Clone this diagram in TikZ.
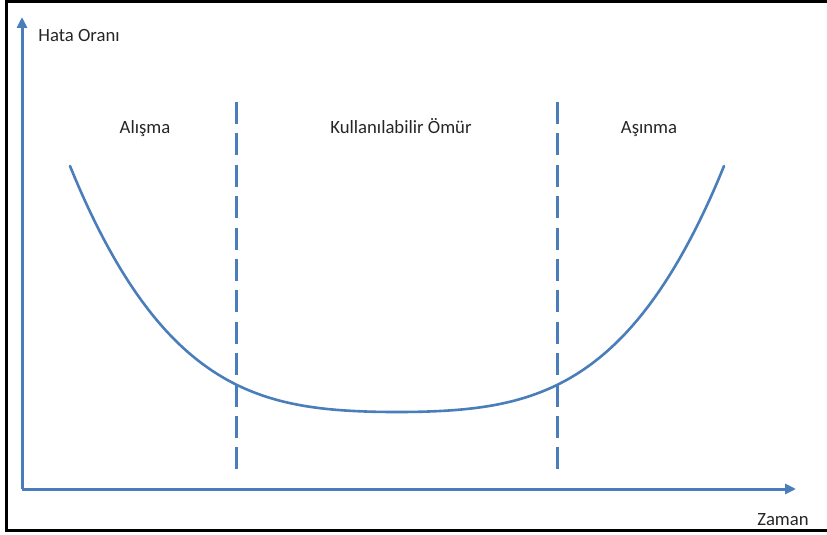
\documentclass[tikz,border=0pt]{standalone}
\usepackage{fontspec}
\setmainfont{Carlito}
\usetikzlibrary{arrows.meta}
\definecolor{lineblue}{RGB}{74,126,187}
\definecolor{txt}{RGB}{38,38,38}
\tikzset{
  axisline/.style={draw=lineblue, line width=3pt, line join=miter, -{Triangle[length=11pt,width=10pt]}},
  phase/.style={draw=lineblue, line width=3pt, dash pattern=on 22pt off 9.4pt},
  curveline/.style={draw=lineblue, line width=2.6pt, line cap=round},
  lbl/.style={text=txt, font=\fontsize{18.7}{22}\selectfont, inner sep=0pt, anchor=base},
  frameline/.style={draw=black, line width=3pt}
}
\begin{document}
\begin{tikzpicture}[x=1pt, y=-1pt]
\useasboundingbox (0,0) rectangle (827,535);
\fill[white] (0,0) rectangle (827,535);
% frame
\draw[frameline] (827,1.3) -- (6,1.3) -- (6,530) -- (827,530);
% axes
\coordinate (O) at (22,489);
\coordinate (ytip) at (22,17);
\coordinate (xtip) at (796,489);
\draw[axisline] (O) -- (ytip);
\draw[axisline] (O) -- (xtip);
% phase boundaries
\coordinate (d1t) at (236.5,102);
\coordinate (d1b) at (236.5,469);
\coordinate (d2t) at (557.5,102);
\coordinate (d2b) at (557.5,469);
\draw[phase] (d1t) -- (d1b);
\draw[phase] (d2t) -- (d2b);
% bathtub curve
\draw[curveline] plot[domain=-327:327, samples=120, smooth]
  ({397+\x},{412-246*(0.2*(\x/327)^2+0.8*pow((abs(\x)+0.01)/327,3.576))});
% labels
\node[lbl] (yl) at (79,41.7) {Hata Oranı};
\node[lbl] (xl) at (783,525) {Zaman};
\node[lbl] (p1) at (145,133) {Alışma};
\node[lbl] (p2) at (401,133) {Kullanılabilir Ömür};
\node[lbl] (p3) at (649,133) {Aşınma};
\end{tikzpicture}
\end{document}
